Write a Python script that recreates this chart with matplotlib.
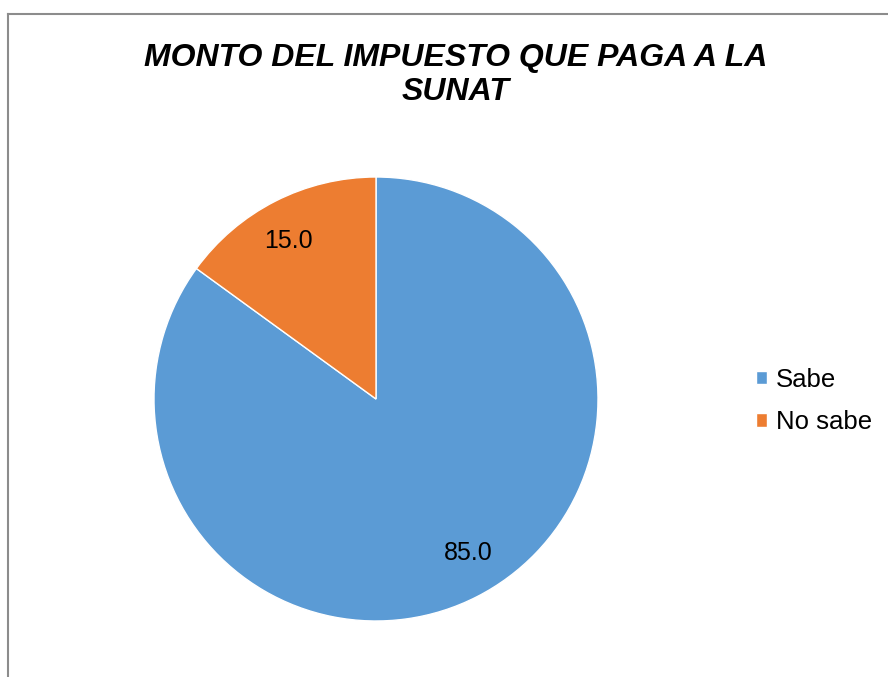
import matplotlib
matplotlib.use("Agg")
import numpy as np
import matplotlib.pyplot as plt
from matplotlib.lines import Line2D

plt.rcParams['font.family'] = ['Liberation Sans', 'DejaVu Sans']

# data
categories = ["Sabe", "No sabe"]
values = [85.0, 15.0]
colors = ["#5B9BD5", "#ED7D31"]
title = "MONTO DEL IMPUESTO QUE PAGA A LA\nSUNAT"

fig = plt.figure(figsize=(8.88, 6.77), dpi=100)
W, H = 888, 677

# pie axes: centre (376, 399) px, radius 222 px
cx, cy, r = 376, 399, 222
ax = fig.add_axes([(cx - r) / W, 1 - (cy + r) / H, 2 * r / W, 2 * r / H])
wedges, texts, autotexts = ax.pie(
    values, colors=colors, startangle=90, counterclock=False,
    autopct=lambda p: f"{p:.1f}", pctdistance=0.81,
    wedgeprops=dict(edgecolor="white", linewidth=1),
    textprops=dict(fontsize=18, color="black"))
# nudge labels like Excel's best-fit placement
for w, t, dth, rr in zip(wedges, autotexts, [4, 2], [0.81, 0.815]):
    th = np.deg2rad((w.theta1 + w.theta2) / 2 + dth)
    t.set_position((rr * np.cos(th), rr * np.sin(th)))
ax.set_xlim(-1, 1)
ax.set_ylim(-1, 1)
ax.set_aspect("equal")
ax.axis("off")

fig.text(456 / W, 1 - 75 / H, title, ha="center", va="center",
         fontsize=23, fontweight="bold", fontstyle="italic",
         linespacing=1.15)

fig.legend(wedges, categories, loc="center left",
           bbox_to_anchor=(756 / W, 1 - 401 / H), frameon=False,
           fontsize=18.5, handlelength=0.42, handleheight=0.42,
           handletextpad=0.35, labelspacing=0.72, borderpad=0,
           borderaxespad=0)

# outer chart frame (only left and top edges visible)
fig.add_artist(Line2D([7.5 / W, 7.5 / W], [0, 1 - 13.5 / H],
                      transform=fig.transFigure, color="#8c8c8c", lw=1.5))
fig.add_artist(Line2D([7.5 / W, 1], [1 - 13.5 / H, 1 - 13.5 / H],
                      transform=fig.transFigure, color="#8c8c8c", lw=1.5))

fig.savefig("out.png", dpi=100, facecolor="white")
